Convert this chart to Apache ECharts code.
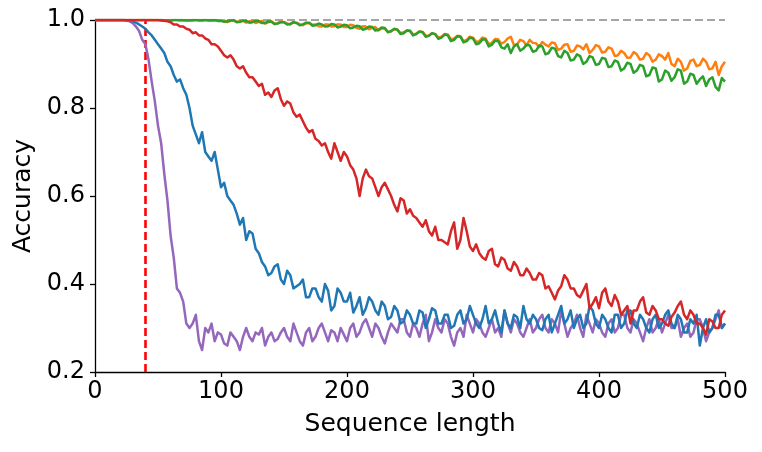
<!DOCTYPE html>
<html>
<head>
<meta charset="utf-8">
<script src="https://cdn.jsdelivr.net/npm/echarts@6/dist/echarts.min.js"></script>
<style>html,body{margin:0;padding:0;background:#fff;}#chart{width:762px;height:452px;}</style>
</head>
<body>
<div id="chart"></div>
<script>
// sequence lengths (x values)
const seqLengths = [
0,2.5,5,7.5,10,12.5,15,17.5,20,22.5,
25,27.5,30,32.5,35,37.5,40,42.5,45,47.5,
50,52.5,55,57.5,60,62.5,65,67.5,70,72.5,
75,77.5,80,82.5,85,87.5,90,92.5,95,97.5,
100,102.5,105,107.5,110,112.5,115,117.5,120,122.5,
125,127.5,130,132.5,135,137.5,140,142.5,145,147.5,
150,152.5,155,157.5,160,162.5,165,167.5,170,172.5,
175,177.5,180,182.5,185,187.5,190,192.5,195,197.5,
200,202.5,205,207.5,210,212.5,215,217.5,220,222.5,
225,227.5,230,232.5,235,237.5,240,242.5,245,247.5,
250,252.5,255,257.5,260,262.5,265,267.5,270,272.5,
275,277.5,280,282.5,285,287.5,290,292.5,295,297.5,
300,302.5,305,307.5,310,312.5,315,317.5,320,322.5,
325,327.5,330,332.5,335,337.5,340,342.5,345,347.5,
350,352.5,355,357.5,360,362.5,365,367.5,370,372.5,
375,377.5,380,382.5,385,387.5,390,392.5,395,397.5,
400,402.5,405,407.5,410,412.5,415,417.5,420,422.5,
425,427.5,430,432.5,435,437.5,440,442.5,445,447.5,
450,452.5,455,457.5,460,462.5,465,467.5,470,472.5,
475,477.5,480,482.5,485,487.5,490,492.5,495,497.5,
500];

const blueAcc = [
1.0,1.0,1.0,1.0,1.0,1.0,1.0,1.0,1.0,1.0,
0.999,0.998,0.997,0.994,0.99,0.985,0.98,0.972,0.965,0.955,
0.945,0.935,0.925,0.905,0.895,0.875,0.86,0.865,0.845,0.83,
0.80,0.76,0.74,0.72,0.745,0.70,0.69,0.68,0.70,0.66,
0.62,0.63,0.60,0.59,0.58,0.56,0.535,0.55,0.50,0.52,
0.515,0.48,0.47,0.45,0.44,0.42,0.425,0.44,0.445,0.41,
0.40,0.43,0.42,0.39,0.395,0.40,0.41,0.37,0.37,0.39,
0.39,0.37,0.36,0.40,0.385,0.34,0.35,0.39,0.38,0.36,
0.36,0.38,0.335,0.35,0.37,0.33,0.345,0.37,0.36,0.34,
0.33,0.36,0.35,0.32,0.325,0.35,0.34,0.31,0.315,0.34,
0.33,0.31,0.31,0.34,0.335,0.30,0.32,0.345,0.34,0.31,
0.31,0.33,0.33,0.30,0.305,0.33,0.34,0.31,0.32,0.35,
0.33,0.31,0.30,0.32,0.35,0.31,0.32,0.34,0.31,0.29,
0.34,0.31,0.30,0.33,0.325,0.30,0.35,0.32,0.31,0.33,
0.32,0.30,0.295,0.32,0.33,0.29,0.31,0.33,0.35,0.31,
0.32,0.34,0.30,0.32,0.33,0.30,0.31,0.35,0.34,0.31,
0.30,0.33,0.32,0.30,0.29,0.33,0.33,0.30,0.31,0.34,
0.34,0.31,0.30,0.33,0.32,0.30,0.29,0.32,0.33,0.30,
0.31,0.33,0.34,0.31,0.30,0.33,0.32,0.29,0.29,0.32,
0.31,0.33,0.26,0.30,0.32,0.29,0.30,0.33,0.33,0.30,
0.31];

const orangeAcc = [
1.0,1.0,1.0,1.0,1.0,1.0,1.0,1.0,1.0,1.0,
1.0,1.0,1.0,1.0,1.0,1.0,1.0,1.0,1.0,1.0,
1.0,1.0,0.999,1.0,1.0,1.0,1.0,0.999,0.999,1.0,
1.0,0.999,1.0,1.0,0.998,1.0,1.0,0.998,0.999,1.0,
0.998,0.999,0.995,0.998,1.0,0.996,0.997,0.999,0.994,0.997,
0.998,0.993,0.996,0.998,0.992,0.995,0.997,0.991,0.993,0.996,
0.995,0.992,0.99,0.995,0.994,0.99,0.988,0.992,0.993,0.989,
0.99,0.986,0.985,0.99,0.99,0.985,0.986,0.99,0.99,0.984,
0.984,0.989,0.988,0.982,0.98,0.986,0.985,0.979,0.982,0.984,
0.976,0.981,0.98,0.973,0.974,0.979,0.978,0.97,0.972,0.976,
0.976,0.967,0.969,0.974,0.973,0.964,0.965,0.97,0.968,0.96,
0.962,0.968,0.967,0.956,0.958,0.964,0.963,0.952,0.955,0.962,
0.96,0.95,0.952,0.96,0.958,0.945,0.948,0.957,0.956,0.946,
0.95,0.958,0.962,0.943,0.945,0.955,0.952,0.942,0.955,0.948,
0.947,0.938,0.95,0.944,0.94,0.949,0.947,0.932,0.935,0.944,
0.945,0.928,0.93,0.942,0.94,0.933,0.945,0.925,0.932,0.943,
0.94,0.926,0.928,0.938,0.935,0.918,0.92,0.93,0.925,0.914,
0.915,0.927,0.922,0.91,0.912,0.925,0.92,0.905,0.91,0.922,
0.918,0.91,0.925,0.90,0.895,0.912,0.905,0.885,0.89,0.907,
0.91,0.895,0.898,0.912,0.905,0.888,0.89,0.905,0.875,0.895,
0.905];

const greenAcc = [
1.0,1.0,1.0,1.0,1.0,1.0,1.0,1.0,1.0,1.0,
1.0,1.0,1.0,1.0,1.0,1.0,1.0,1.0,1.0,1.0,
1.0,1.0,1.0,0.999,0.999,1.0,1.0,1.0,1.0,0.999,
0.999,1.0,1.0,0.999,1.0,1.0,0.999,1.0,1.0,0.998,
0.998,0.996,0.997,0.999,0.999,0.995,0.996,0.998,0.998,0.994,
0.995,0.998,0.997,0.993,0.993,0.997,0.996,0.991,0.992,0.995,
0.995,0.99,0.991,0.995,0.993,0.988,0.99,0.994,0.994,0.987,
0.988,0.992,0.99,0.985,0.986,0.991,0.99,0.983,0.985,0.989,
0.988,0.981,0.983,0.987,0.986,0.978,0.98,0.985,0.984,0.976,
0.978,0.983,0.982,0.972,0.975,0.98,0.978,0.968,0.97,0.976,
0.975,0.965,0.968,0.974,0.972,0.962,0.964,0.97,0.968,0.957,
0.96,0.967,0.965,0.952,0.955,0.963,0.962,0.949,0.952,0.96,
0.958,0.945,0.947,0.956,0.955,0.94,0.944,0.953,0.952,0.938,
0.935,0.945,0.925,0.94,0.945,0.93,0.935,0.944,0.942,0.928,
0.93,0.942,0.94,0.922,0.925,0.937,0.935,0.918,0.915,0.93,
0.925,0.908,0.91,0.922,0.918,0.90,0.905,0.918,0.915,0.898,
0.90,0.914,0.912,0.893,0.895,0.908,0.905,0.885,0.89,0.903,
0.90,0.88,0.885,0.898,0.895,0.872,0.875,0.892,0.89,0.86,
0.865,0.885,0.88,0.862,0.87,0.888,0.885,0.855,0.86,0.878,
0.875,0.855,0.865,0.872,0.85,0.865,0.87,0.848,0.84,0.868,
0.86];

const redAcc = [
1.0,1.0,1.0,1.0,1.0,1.0,1.0,1.0,1.0,1.0,
1.0,1.0,1.0,1.0,1.0,1.0,1.0,1.0,1.0,1.0,
1.0,0.999,0.998,0.997,0.995,0.99,0.99,0.985,0.985,0.98,
0.978,0.97,0.972,0.965,0.965,0.958,0.955,0.945,0.945,0.94,
0.93,0.92,0.915,0.92,0.91,0.895,0.89,0.895,0.88,0.87,
0.87,0.86,0.85,0.855,0.83,0.835,0.825,0.84,0.845,0.82,
0.805,0.815,0.81,0.79,0.78,0.785,0.77,0.755,0.745,0.75,
0.73,0.725,0.715,0.72,0.70,0.685,0.72,0.70,0.68,0.70,
0.69,0.67,0.66,0.64,0.60,0.64,0.66,0.645,0.64,0.62,
0.60,0.62,0.63,0.615,0.60,0.58,0.565,0.595,0.59,0.56,
0.57,0.555,0.55,0.54,0.53,0.545,0.52,0.51,0.53,0.50,
0.50,0.495,0.49,0.52,0.54,0.48,0.50,0.55,0.52,0.485,
0.475,0.49,0.47,0.46,0.455,0.475,0.48,0.445,0.44,0.46,
0.455,0.435,0.43,0.45,0.44,0.42,0.42,0.435,0.425,0.41,
0.41,0.425,0.42,0.39,0.395,0.38,0.365,0.385,0.395,0.42,
0.41,0.39,0.39,0.375,0.37,0.385,0.40,0.345,0.355,0.37,
0.345,0.38,0.39,0.36,0.35,0.375,0.36,0.33,0.34,0.35,
0.31,0.34,0.34,0.36,0.37,0.335,0.33,0.35,0.34,0.32,
0.32,0.31,0.305,0.325,0.335,0.35,0.36,0.33,0.32,0.34,
0.33,0.31,0.31,0.30,0.285,0.32,0.315,0.30,0.30,0.33,
0.34];

const purpleAcc = [
1.0,1.0,1.0,1.0,1.0,1.0,1.0,1.0,1.0,1.0,
0.999,0.997,0.993,0.985,0.975,0.955,0.945,0.91,0.86,0.815,
0.76,0.72,0.65,0.59,0.51,0.46,0.39,0.38,0.36,0.31,
0.30,0.31,0.33,0.27,0.25,0.30,0.29,0.31,0.27,0.29,
0.285,0.265,0.26,0.29,0.28,0.27,0.25,0.28,0.30,0.28,
0.27,0.29,0.285,0.30,0.26,0.28,0.29,0.27,0.275,0.29,
0.30,0.28,0.27,0.31,0.29,0.27,0.26,0.29,0.30,0.27,
0.28,0.30,0.31,0.29,0.27,0.295,0.29,0.27,0.30,0.285,
0.27,0.30,0.31,0.28,0.29,0.31,0.32,0.30,0.28,0.31,
0.30,0.28,0.265,0.29,0.31,0.30,0.29,0.32,0.32,0.29,
0.28,0.31,0.30,0.28,0.31,0.33,0.27,0.29,0.32,0.30,
0.29,0.32,0.31,0.28,0.26,0.29,0.30,0.28,0.33,0.31,
0.29,0.32,0.31,0.29,0.28,0.30,0.32,0.29,0.30,0.28,
0.34,0.31,0.29,0.32,0.31,0.29,0.28,0.30,0.32,0.29,
0.30,0.32,0.33,0.30,0.29,0.32,0.31,0.29,0.34,0.31,
0.28,0.30,0.31,0.33,0.30,0.28,0.33,0.31,0.29,0.32,
0.31,0.29,0.28,0.31,0.32,0.29,0.30,0.33,0.33,0.30,
0.29,0.32,0.31,0.29,0.27,0.30,0.32,0.29,0.30,0.32,
0.29,0.31,0.33,0.30,0.30,0.32,0.28,0.30,0.31,0.28,
0.29,0.32,0.32,0.30,0.27,0.29,0.30,0.32,0.34,0.30,
0.31];

const xTicks = [0,100,200,300,400,500];
const yTicks = [0.2,0.4,0.6,0.8,1.0];
const thresholdLength = 40;
const perfectAccuracy = 1.0;

function pairs(vals){ return seqLengths.map((x,i)=>[x, vals[i]]); }

const chart = echarts.init(document.getElementById('chart'), null, {renderer:'canvas'});
const font = 'DejaVu Sans';
function lineSeries(name, vals, color, z){
  return {name, type:'line', data:pairs(vals), showSymbol:false, symbol:'none', z,
    lineStyle:{color, width:2.5, join:'round'}, itemStyle:{color}, animation:false};
}
const series = [
  lineSeries('purple', purpleAcc, '#9467bd', 2),
  lineSeries('blue', blueAcc, '#1f77b4', 3),
  lineSeries('orange', orangeAcc, '#ff7f0e', 4),
  lineSeries('green', greenAcc, '#2ca02c', 5),
  lineSeries('red', redAcc, '#d62728', 6)
];
series[0].markLine = {
  silent:true, symbol:['none','none'], animation:false, label:{show:false}, z:1,
  data:[
    {yAxis:perfectAccuracy, lineStyle:{color:'#888888', width:1.6, type:[8,4]}},
    {xAxis:thresholdLength, lineStyle:{color:'#ff0000', width:2.6, type:[8,4]}}
  ]
};

chart.setOption({
  animation:false,
  backgroundColor:'#ffffff',
  grid:{left:95, right:37, top:20, bottom:80, containLabel:false},
  xAxis:{type:'value', min:xTicks[0], max:xTicks[xTicks.length-1], interval:100,
    name:'Sequence length', nameLocation:'middle', nameGap:40,
    nameTextStyle:{fontFamily:font, fontSize:25, color:'#000'},
    axisLine:{show:true, onZero:false, lineStyle:{color:'#000', width:1.3}},
    axisTick:{show:true, length:5, lineStyle:{color:'#000', width:1.3}},
    axisLabel:{fontFamily:font, fontSize:24, color:'#000', margin:8},
    splitLine:{show:false}},
  yAxis:{type:'value', min:yTicks[0], max:yTicks[yTicks.length-1], interval:0.2,
    name:'Accuracy', nameLocation:'middle', nameGap:54, nameRotate:90,
    nameTextStyle:{fontFamily:font, fontSize:25, color:'#000'},
    axisLine:{show:true, onZero:false, lineStyle:{color:'#000', width:1.3}},
    axisTick:{show:true, length:5, lineStyle:{color:'#000', width:1.3}},
    axisLabel:{fontFamily:font, fontSize:24, color:'#000', margin:10, formatter:v=>v.toFixed(1)},
    splitLine:{show:false}},
  series
});
</script>
</body>
</html>
